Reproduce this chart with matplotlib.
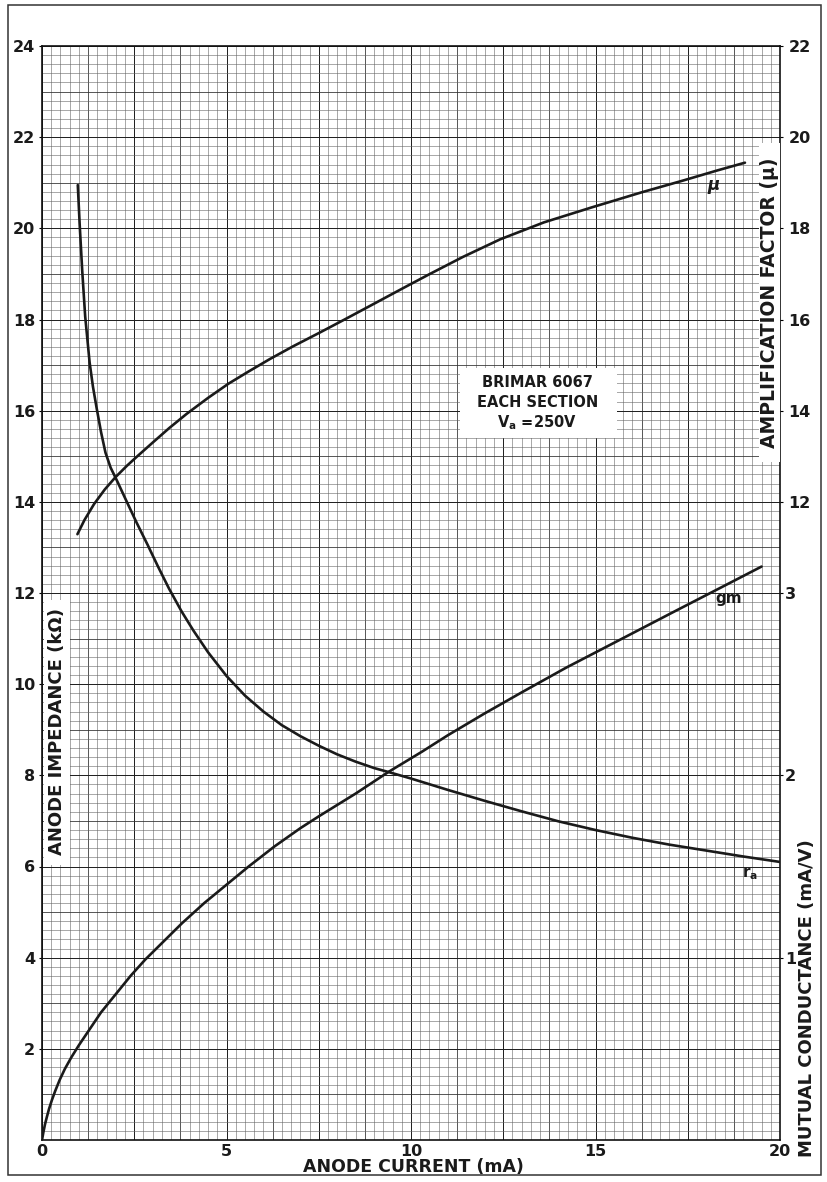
import numpy as np
import matplotlib
matplotlib.use("Agg")
import matplotlib.pyplot as plt
from matplotlib.patches import Rectangle

plt.rcParams["font.family"] = ["DejaVu Sans"]
plt.rcParams["mathtext.fontset"] = "dejavusans"

# ---- data (Brimar 6067, each section, Va = 250 V) ----
# anode impedance ra (kOhm) against anode current (mA)
ia_ra = [0.97, 1.02, 1.09, 1.17, 1.29, 1.38, 1.48, 1.6, 1.72, 1.86, 2.04, 2.27,
         2.56, 2.86, 3.15, 3.44, 3.78, 4.1, 4.5, 5.0, 5.5, 6.0, 6.5, 7.0, 7.5,
         8.0, 8.5, 9.0, 9.4, 10.0, 11.0, 12.0, 13.0, 14.0, 15.0, 16.0, 17.0,
         18.0, 19.0, 20.0]
ra_kohm = [20.95, 20.1, 19.07, 18.07, 17.06, 16.53, 16.06, 15.53, 15.08, 14.75,
           14.45, 14.05, 13.55, 13.06, 12.57, 12.1, 11.6, 11.18, 10.7, 10.18,
           9.75, 9.4, 9.1, 8.86, 8.65, 8.46, 8.3, 8.16, 8.07, 7.93, 7.68, 7.44,
           7.21, 6.99, 6.8, 6.63, 6.48, 6.35, 6.22, 6.1]

# amplification factor mu against anode current (mA)
ia_mu = [0.96, 1.15, 1.41, 1.7, 1.99, 2.3, 2.57, 3.0, 3.45, 3.92, 4.5, 5.05,
         5.6, 6.17, 6.8, 7.52, 8.2, 8.87, 9.86, 10.49, 11.4, 12.42, 13.6, 14.9,
         16.25, 17.38, 18.3, 19.05]
mu = [11.29, 11.6, 11.95, 12.27, 12.54, 12.79, 12.99, 13.3, 13.62, 13.93,
      14.28, 14.59, 14.86, 15.13, 15.41, 15.71, 16.0, 16.29, 16.72, 16.99,
      17.37, 17.76, 18.13, 18.46, 18.79, 19.05, 19.27, 19.44]

# mutual conductance gm (mA/V) against anode current (mA)
ia_gm = [0.0, 0.04, 0.08, 0.13, 0.19, 0.27, 0.36, 0.48, 0.62, 0.8, 1.0, 1.3,
         1.6, 2.0, 2.4, 2.8, 3.3, 3.8, 4.4, 5.0, 5.6, 6.3, 7.0, 7.5, 8.5, 9.4,
         10.3, 11.0, 12.0, 13.0, 14.2, 15.2, 16.2, 17.2, 18.4, 19.5]
gm = [0.0, 0.045, 0.085, 0.125, 0.17, 0.22, 0.27, 0.33, 0.39, 0.455, 0.52,
      0.61, 0.7, 0.8, 0.9, 0.99, 1.09, 1.19, 1.3, 1.4, 1.5, 1.61, 1.71, 1.775,
      1.9, 2.02, 2.13, 2.22, 2.34, 2.455, 2.59, 2.695, 2.8, 2.905, 3.03, 3.145]

x_ticks = [0, 5, 10, 15, 20]
ra_ticks = [2, 4, 6, 8, 10, 12, 14, 16, 18, 20, 22, 24]
mu_ticks = [12, 14, 16, 18, 20, 22]
gm_ticks = [1, 2, 3]

W, H = 827, 1182
fig = plt.figure(figsize=(W / 100, H / 100), dpi=100)
fig.patch.set_facecolor("white")

# outer frame of the sheet
fig.patches.append(Rectangle((8 / W, 1 - 1175 / H), 813 / W, 1170 / H,
                             transform=fig.transFigure, fill=False,
                             edgecolor="#333333", linewidth=1.1))

L, R, B, T = 42, 780, 1140, 46
ax = fig.add_axes([L / W, 1 - B / H, (R - L) / W, (B - T) / H])
ax.set_xlim(0, 20)
ax.set_ylim(0, 24)


def grid_style(i):
    if i % 10 == 0:
        return "#222222", 0.72
    if i % 5 == 0:
        return "#333333", 0.58
    return "#666666", 0.4


# graph-paper grid: fine cells, heavier every fifth and tenth line
for i, xv in enumerate(np.arange(0, 20.0001, 0.25)):
    c, lw = grid_style(i)
    ax.vlines(xv, 0, 24, color=c, linewidth=lw, zorder=1)
for i, yv in enumerate(np.arange(0, 24.0001, 0.2)):
    c, lw = grid_style(i)
    ax.hlines(yv, 0, 20, color=c, linewidth=lw, zorder=1)

for s in ax.spines.values():
    s.set_linewidth(1.2)
    s.set_color("#111111")

tick_font = dict(fontsize=11.5, fontweight="bold", color="#1a1a1a")
ax.set_xticks(x_ticks)
ax.set_xticklabels([str(v) for v in x_ticks], **tick_font)
ax.set_yticks(ra_ticks)
ax.set_yticklabels([str(v) for v in ra_ticks], **tick_font)
ax.tick_params(axis="y", length=2, width=0.8, pad=3)
ax.tick_params(axis="x", length=0, pad=3)

# secondary scales on the right
ax_mu = ax.twinx()
ax_mu.set_ylim(-2, 22)
ax_mu.set_yticks(mu_ticks)
ax_mu.set_yticklabels([str(v) for v in mu_ticks], **tick_font)
ax_mu.tick_params(axis="y", length=2, width=0.8, pad=4)

ax_gm = ax.twinx()
ax_gm.set_ylim(0, 6)
ax_gm.set_yticks(gm_ticks)
ax_gm.set_yticklabels([str(v) for v in gm_ticks], **tick_font)
ax_gm.tick_params(axis="y", length=2, width=0.8, pad=1.5)
for a in (ax_mu, ax_gm):
    for s in a.spines.values():
        s.set_visible(False)

# white label panels on the grid
panel = dict(transform=ax.transAxes, facecolor="white", edgecolor="none", zorder=3)
ax.add_patch(Rectangle((0.003, 0.251), 0.035, 0.243, **panel))
ax.add_patch(Rectangle((0.9715, 0.620), 0.0285, 0.291, **panel))
ax.add_patch(Rectangle((0.566, 0.642), 0.213, 0.064, **panel))

label_font = dict(fontsize=13, fontweight="bold", color="#1a1a1a")
ax.text(0.0205, 0.373, "ANODE IMPEDANCE (k\u03a9)", rotation=90, ha="center",
        va="center", transform=ax.transAxes, zorder=4, **label_font)
ax.text(0.986, 0.765, "AMPLIFICATION FACTOR (\u03bc)", rotation=90, ha="center",
        va="center", transform=ax.transAxes, zorder=4, fontsize=13.5,
        fontweight="bold", color="#1a1a1a")
ax.text(1.0365, 0.13, "MUTUAL CONDUCTANCE (mA/V)", rotation=90, ha="center",
        va="center", transform=ax.transAxes, zorder=4, fontsize=13,
        fontweight="bold", color="#1a1a1a")
ax.text(0.503, -0.0245, "ANODE CURRENT (mA)", ha="center", va="center",
        transform=ax.transAxes, fontsize=12.5, fontweight="bold",
        color="#1a1a1a")

box_font = dict(fontsize=10.5, fontweight="bold", color="#1a1a1a",
                ha="center", va="center", transform=ax.transAxes, zorder=4)
ax.text(0.671, 0.692, "BRIMAR 6067", **box_font)
ax.text(0.671, 0.674, "EACH SECTION", **box_font)
ax.text(0.671, 0.656, "V$_\\mathbf{a}$ =250V", **box_font)

# curves
curve = dict(color="#1a1a1a", linewidth=1.9, solid_capstyle="round",
             solid_joinstyle="round", zorder=5)
ax.plot(ia_ra, ra_kohm, **curve)
ax_mu.plot(ia_mu, mu, **curve)
ax_gm.plot(ia_gm, gm, **curve)

ax_mu.text(18.2, 18.95, "\u03bc", fontsize=12, fontstyle="italic",
           fontweight="bold", ha="center", va="center", color="#1a1a1a")
ax_gm.text(18.6, 2.97, "gm", fontsize=11, fontweight="bold", ha="center",
           va="center", color="#1a1a1a")
ax.text(19.2, 5.85, "r$_\\mathbf{a}$", fontsize=11, fontweight="bold",
        ha="center", va="center", color="#1a1a1a")

fig.savefig("out.png", dpi=100, facecolor="white")
